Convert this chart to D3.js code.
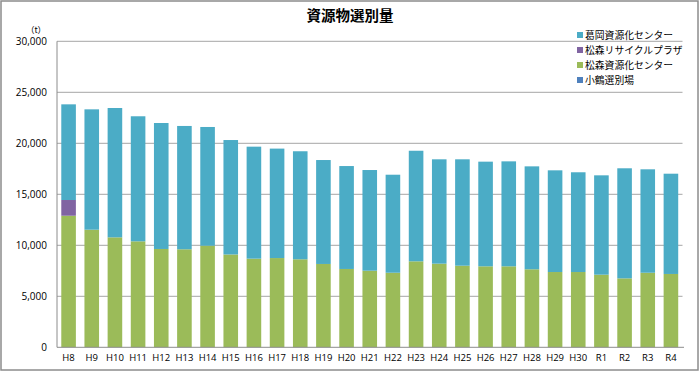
<!DOCTYPE html>
<html>
<head>
<meta charset="utf-8">
<script src="https://cdn.jsdelivr.net/npm/d3@7"></script>
<style>
  body { margin: 0; background: #fff; }
  svg { display: block; font-family: "Noto Sans CJK JP", "Noto Sans", sans-serif; }
</style>
</head>
<body>
<svg width="700" height="372"></svg>
<script>
const years = ["H8", "H9", "H10", "H11", "H12", "H13", "H14", "H15", "H16", "H17", "H18", "H19", "H20", "H21", "H22", "H23", "H24", "H25", "H26", "H27", "H28", "H29", "H30", "R1", "R2", "R3", "R4"];
const totals = [23820, 23330, 23460, 22650, 21990, 21700, 21600, 20320, 19670, 19480, 19220, 18360, 17770, 17380, 16920, 19270, 18430, 18430, 18200, 18230, 17740, 17350, 17160, 16860, 17550, 17450, 17020];
const matsumoriShigen = [12900, 11530, 10780, 10390, 9640, 9610, 9960, 9100, 8690, 8750, 8630, 8170, 7680, 7510, 7310, 8430, 8200, 8000, 7940, 7940, 7650, 7380, 7380, 7120, 6760, 7310, 7190];
const matsumoriRecycle = [1540, 0, 0, 0, 0, 0, 0, 0, 0, 0, 0, 0, 0, 0, 0, 0, 0, 0, 0, 0, 0, 0, 0, 0, 0, 0, 0];
const kozuru = years.map(() => 0);
const yTicks = [0, 5000, 10000, 15000, 20000, 25000, 30000];

// stack order bottom -> top
const seriesNames = ["小鶴選別場", "松森資源化センター", "松森リサイクルプラザ", "葛岡資源化センター"];
const colors = ["#4f81bd", "#9bbb59", "#8064a2", "#4bacc6"];

const rows = years.map((year, i) => ({
  year,
  [seriesNames[0]]: kozuru[i],
  [seriesNames[1]]: matsumoriShigen[i],
  [seriesNames[2]]: matsumoriRecycle[i],
  [seriesNames[3]]: totals[i] - kozuru[i] - matsumoriShigen[i] - matsumoriRecycle[i],
}));

const svg = d3.select("svg");
const margin = { left: 57, right: 684, top: 41.3, bottom: 347.3 };

svg.append("rect")
  .attr("x", 1).attr("y", 1).attr("width", 697).attr("height", 369)
  .attr("fill", "#fff").attr("stroke", "#8c8c8c").attr("stroke-width", 1.5);

const x = d3.scaleBand().domain(years).range([margin.left, 682.5]).paddingInner(0.37).paddingOuter(0.185);
const y = d3.scaleLinear().domain([0, 30000]).range([margin.bottom, margin.top]);

// grid
svg.append("g")
  .selectAll("line")
  .data(yTicks.slice(1))
  .join("line")
  .attr("x1", margin.left).attr("x2", 682.5)
  .attr("y1", d => y(d)).attr("y2", d => y(d))
  .attr("stroke", "#a6a6a6").attr("stroke-width", 1);

const stack = d3.stack().keys(seriesNames)(rows);

svg.append("g")
  .selectAll("g")
  .data(stack)
  .join("g")
  .attr("fill", (_, i) => colors[i])
  .selectAll("rect")
  .data(d => d)
  .join("rect")
  .attr("x", d => x(d.data.year))
  .attr("width", x.bandwidth())
  .attr("y", d => y(d[1]))
  .attr("height", d => y(d[0]) - y(d[1]));

// axes lines
svg.append("line")
  .attr("x1", margin.left).attr("x2", margin.left)
  .attr("y1", margin.top).attr("y2", margin.bottom)
  .attr("stroke", "#8c8c8c");
svg.append("line")
  .attr("x1", margin.left).attr("x2", margin.right)
  .attr("y1", margin.bottom).attr("y2", margin.bottom)
  .attr("stroke", "#8c8c8c");

const yAxis = d3.axisLeft(y).tickValues(yTicks).tickSize(0).tickPadding(10).tickFormat(d3.format(","));
svg.append("g")
  .attr("transform", `translate(${margin.left},0)`)
  .call(yAxis)
  .call(g => g.select(".domain").remove())
  .selectAll("text")
  .attr("font-size", 10).attr("fill", "#000").attr("font-family", "'Open Sans', sans-serif");

const xAxis = d3.axisBottom(x).tickSize(0).tickPadding(7);
svg.append("g")
  .attr("transform", `translate(0,${margin.bottom})`)
  .call(xAxis)
  .call(g => g.select(".domain").remove())
  .selectAll("text")
  .attr("font-size", 9.5).attr("fill", "#000").attr("font-family", "'Open Sans', sans-serif");

svg.append("text")
  .attr("x", 36).attr("y", 33)
  .attr("text-anchor", "middle")
  .attr("font-size", 8.5)
  .text("（t）");

svg.append("text")
  .attr("x", 350).attr("y", 21)
  .attr("text-anchor", "middle")
  .attr("font-size", 14.5).attr("font-weight", "bold")
  .text("資源物選別量");

// legend (reversed order)
const legend = svg.append("g").attr("transform", "translate(577,35)")
  .selectAll("g")
  .data(seriesNames.slice().reverse())
  .join("g")
  .attr("transform", (_, i) => `translate(0,${i * 15})`);
legend.append("rect")
  .attr("x", 0).attr("y", -3).attr("width", 6).attr("height", 6)
  .attr("fill", d => colors[seriesNames.indexOf(d)]);
legend.append("text")
  .attr("x", 8).attr("y", 4)
  .attr("font-size", 9.8)
  .text(d => d);
</script>
</body>
</html>
